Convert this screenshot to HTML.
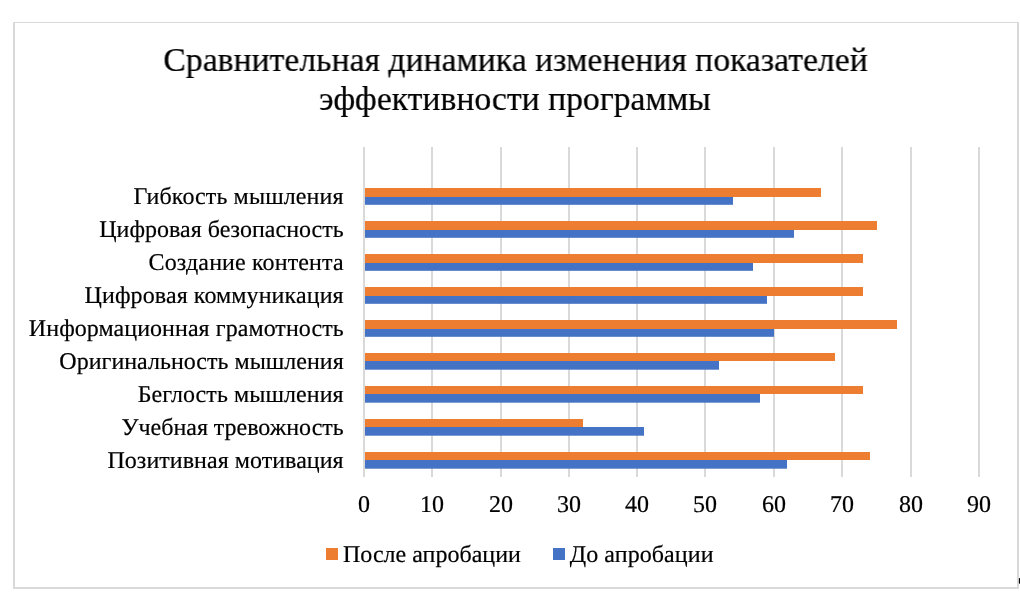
<!DOCTYPE html>
<html lang="ru"><head><meta charset="utf-8"><title>Сравнительная динамика изменения показателей эффективности программы</title>
<style>
html,body{margin:0;padding:0;background:#fff;}
body{width:1020px;height:592px;overflow:hidden;position:relative;font-family:"Liberation Serif",serif;}
svg{display:block;position:absolute;left:0;top:0;}
svg.txt{will-change:transform;}
text{font-family:"Liberation Serif",serif;fill:#000;}
</style></head><body>
<svg width="1020" height="592" viewBox="0 0 1020 592">
<rect x="0" y="0" width="1020" height="592" fill="#ffffff"/>
<g fill="#d9d9d9" shape-rendering="crispEdges">
<rect x="13" y="22" width="1006" height="1"/>
<rect x="13" y="22" width="2" height="567"/>
<rect x="1017" y="22" width="2" height="567"/>
<rect x="13" y="587" width="1006" height="2"/>
</g>
<rect x="1018.9" y="577.9" width="2" height="5.8" rx="0.8" fill="#000"/>
<g fill="#d9d9d9" shape-rendering="crispEdges">
<rect x="363" y="147" width="2" height="330"/>
<rect x="431" y="147" width="2" height="330"/>
<rect x="500" y="147" width="2" height="330"/>
<rect x="568" y="147" width="2" height="330"/>
<rect x="636" y="147" width="2" height="330"/>
<rect x="704" y="147" width="2" height="330"/>
<rect x="773" y="147" width="2" height="330"/>
<rect x="841" y="147" width="2" height="330"/>
<rect x="910" y="147" width="2" height="330"/>
<rect x="978" y="147" width="2" height="330"/>
</g>
<g>
<rect x="365" y="188" width="456" height="9" fill="#ed7d31"/>
<rect x="365" y="197" width="368" height="7.8" fill="#4472c4"/>
<rect x="365" y="221" width="512" height="9" fill="#ed7d31"/>
<rect x="365" y="230" width="429" height="7.8" fill="#4472c4"/>
<rect x="365" y="254" width="498" height="9" fill="#ed7d31"/>
<rect x="365" y="263" width="388" height="7.8" fill="#4472c4"/>
<rect x="365" y="287" width="498" height="9" fill="#ed7d31"/>
<rect x="365" y="296" width="402" height="7.8" fill="#4472c4"/>
<rect x="365" y="320" width="532" height="9" fill="#ed7d31"/>
<rect x="365" y="329" width="409" height="7.8" fill="#4472c4"/>
<rect x="365" y="353" width="470" height="8" fill="#ed7d31"/>
<rect x="365" y="361" width="354" height="8.7" fill="#4472c4"/>
<rect x="365" y="386" width="498" height="8" fill="#ed7d31"/>
<rect x="365" y="394" width="395" height="8.7" fill="#4472c4"/>
<rect x="365" y="419" width="218" height="8" fill="#ed7d31"/>
<rect x="365" y="427" width="279" height="8.7" fill="#4472c4"/>
<rect x="365" y="452" width="505" height="8" fill="#ed7d31"/>
<rect x="365" y="460" width="422" height="8.7" fill="#4472c4"/>
</g>
<g shape-rendering="crispEdges"><rect x="326" y="548" width="12" height="12" fill="#ed7d31"/><rect x="553" y="548" width="12" height="12" fill="#4472c4"/></g>
</svg>
<svg class="txt" width="1020" height="592" viewBox="0 0 1020 592">
<g style="filter:grayscale(1)" stroke="#000" stroke-width="0.2">
<g font-size="24.03" text-anchor="end">
<text transform="translate(343.70,204.10) matrix(1,0,0.001,1,0,0)" letter-spacing="0.106">Гибкость мышления</text>
<text transform="translate(343.70,237.10) matrix(1,0,0.001,1,0,0)">Цифровая безопасность</text>
<text transform="translate(343.70,270.10) matrix(1,0,0.001,1,0,0)" letter-spacing="0.119">Создание контента</text>
<text transform="translate(343.70,303.10) matrix(1,0,0.001,1,0,0)" letter-spacing="0.085">Цифровая коммуникация</text>
<text transform="translate(343.70,336.10) matrix(1,0,0.001,1,0,0)" letter-spacing="0.044">Информационная грамотность</text>
<text transform="translate(343.70,369.10) matrix(1,0,0.001,1,0,0)">Оригинальность мышления</text>
<text transform="translate(343.70,402.10) matrix(1,0,0.001,1,0,0)" letter-spacing="0.062">Беглость мышления</text>
<text transform="translate(343.70,435.10) matrix(1,0,0.001,1,0,0)" letter-spacing="-0.033">Учебная тревожность</text>
<text transform="translate(343.70,468.10) matrix(1,0,0.001,1,0,0)" letter-spacing="0.032">Позитивная мотивация</text>
</g>
<g font-size="24.03" text-anchor="middle">
<text transform="translate(364.00,512.00) matrix(1,0,0.001,1,0,0)">0</text>
<text transform="translate(432.00,512.00) matrix(1,0,0.001,1,0,0)">10</text>
<text transform="translate(501.00,512.00) matrix(1,0,0.001,1,0,0)">20</text>
<text transform="translate(569.00,512.00) matrix(1,0,0.001,1,0,0)">30</text>
<text transform="translate(637.00,512.00) matrix(1,0,0.001,1,0,0)">40</text>
<text transform="translate(705.00,512.00) matrix(1,0,0.001,1,0,0)">50</text>
<text transform="translate(774.00,512.00) matrix(1,0,0.001,1,0,0)">60</text>
<text transform="translate(842.00,512.00) matrix(1,0,0.001,1,0,0)">70</text>
<text transform="translate(911.00,512.00) matrix(1,0,0.001,1,0,0)">80</text>
<text transform="translate(979.00,512.00) matrix(1,0,0.001,1,0,0)">90</text>
</g>
<g font-size="33.7" text-anchor="middle">
<text transform="translate(515.60,71.00) matrix(1,0,0.001,1,0,0)">Сравнительная динамика изменения показателей</text>
<text transform="translate(514.90,110.00) matrix(1,0,0.001,1,0,0)">эффективности программы</text>
</g>
<g font-size="24.03">
<text transform="translate(343.00,562.00) matrix(1,0,0.001,1,0,0)">После апробации</text>
<text transform="translate(569.70,562.00) matrix(1,0,0.001,1,0,0)" letter-spacing="0.075">До апробации</text>
</g>
</g>
</svg>
</body></html>
